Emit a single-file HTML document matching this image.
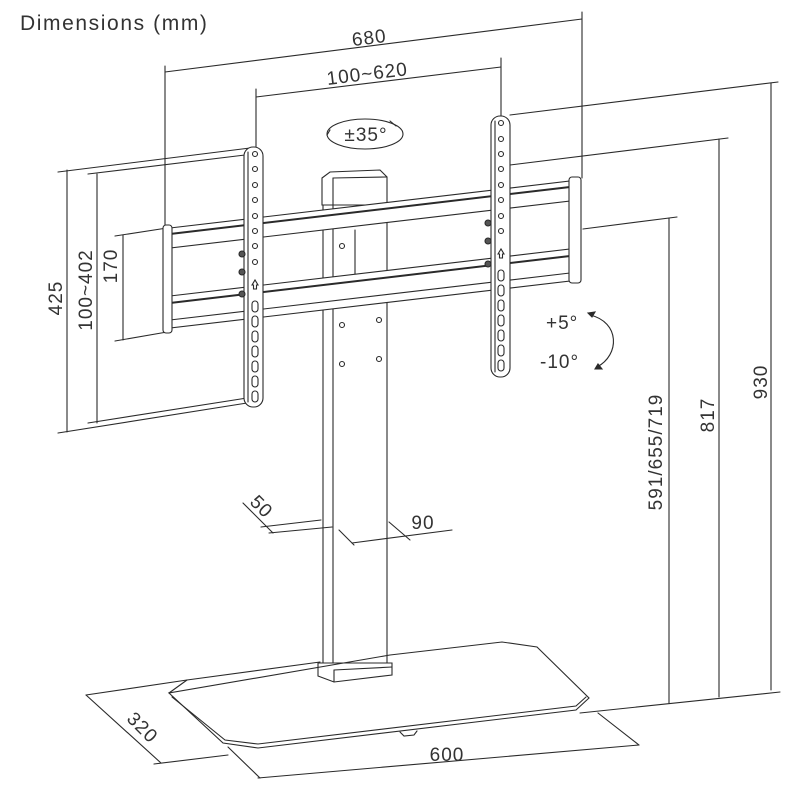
<!DOCTYPE html>
<html><head><meta charset="utf-8"><style>
html,body{margin:0;padding:0;background:#fff;}
svg{display:block;}
text{font-family:"Liberation Sans",sans-serif;fill:#333;letter-spacing:1px;}
</style></head><body>
<svg width="800" height="800" viewBox="0 0 800 800" xmlns="http://www.w3.org/2000/svg">
<g stroke="#2a2a2a" stroke-width="1.1" fill="none" stroke-linecap="round">
<line x1="165" y1="72" x2="582" y2="19"/>
<line x1="165" y1="66" x2="165" y2="228"/>
<line x1="582" y1="12" x2="582" y2="178"/>
<line x1="256" y1="97" x2="501" y2="67"/>
<line x1="256" y1="89" x2="256" y2="147"/>
<line x1="501" y1="58" x2="501" y2="116"/>
<line x1="67" y1="170" x2="67" y2="432"/>
<line x1="58" y1="172" x2="250" y2="148"/>
<line x1="58" y1="433" x2="247" y2="403"/>
<line x1="97" y1="174" x2="97" y2="423"/>
<line x1="88" y1="174" x2="245" y2="155"/>
<line x1="88" y1="423" x2="247" y2="398"/>
<line x1="123" y1="235" x2="123" y2="340"/>
<line x1="115" y1="236" x2="167" y2="228"/>
<line x1="115" y1="341" x2="167" y2="332"/>
<line x1="771" y1="83" x2="771" y2="690"/>
<line x1="510" y1="115" x2="778" y2="82"/>
<line x1="719" y1="139" x2="719" y2="697"/>
<line x1="510" y1="165" x2="728" y2="138"/>
<line x1="669" y1="218" x2="669" y2="703"/>
<line x1="583" y1="229" x2="677" y2="217"/>
<line x1="580" y1="713" x2="780" y2="692"/>
<ellipse cx="365" cy="134" rx="38" ry="15"/>
<path d="M330 130 l-3 5 M396 126 l-6 -5" />
<path d="M590 315 C620 322 620 355 597 367"/>
<path d="M588 313 l7 -1 l-3 5 Z M595 369 l7 0 l-4 -5 Z" fill="#2a2a2a"/>
<path d="M322 178 L330 172 L380 170 L387 177 L387 205 L322 205 Z" fill="#fff"/>
<line x1="333" y1="178" x2="333" y2="205"/>
<line x1="333" y1="178" x2="387" y2="177"/>
<path d="M323 205 L323 663 M333 205 L333 663 M387 205 L387 663"/>
<path d="M318 663 L392 663 L392 675 L334 682 L318 676 Z" fill="#fff"/>
<line x1="334" y1="670" x2="392" y2="667"/>
<line x1="334" y1="670" x2="334" y2="682"/>
<circle cx="342" cy="246" r="2.5"/>
<circle cx="342" cy="325" r="2.5"/><circle cx="379" cy="320" r="2.5"/>
<circle cx="342" cy="364" r="2.5"/><circle cx="379" cy="359" r="2.5"/>
<line x1="355" y1="230" x2="355" y2="285"/>
<g fill="#fff">
<path d="M170 228 L570 181 L570 201 L170 248 Z"/>
<path d="M170 296 L570 249 L570 281 L170 328 Z"/>
</g>
<line x1="170" y1="234" x2="570" y2="187" stroke-width="2"/>
<line x1="170" y1="303" x2="570" y2="256" stroke-width="2"/>
<line x1="170" y1="320" x2="570" y2="273"/>
<rect x="163" y="225" width="9" height="108" rx="3" fill="#fff"/>
<rect x="569" y="177" width="12" height="106" rx="3" fill="#fff"/>
<rect x="244" y="147" width="19" height="260" rx="9" fill="#fff"/>
<line x1="248" y1="152" x2="248" y2="402"/>
<rect x="491" y="116" width="19" height="261" rx="9" fill="#fff"/>
<line x1="495" y1="121" x2="495" y2="372"/>
<g>
<circle cx="255" cy="154" r="2.5"/><circle cx="255" cy="169" r="2.5"/><circle cx="255" cy="185" r="2.5"/><circle cx="255" cy="200" r="2.5"/><circle cx="255" cy="216" r="2.5"/><circle cx="255" cy="231" r="2.5"/><circle cx="255" cy="246" r="2.5"/><circle cx="255" cy="262" r="2.5"/>
<path d="M252 285 l3 -5 l3 5 h-1.5 v4 h-3 v-4 Z"/>
<rect x="252" y="301" width="6" height="11" rx="3"/><rect x="252" y="316" width="6" height="11" rx="3"/><rect x="252" y="331" width="6" height="11" rx="3"/><rect x="252" y="346" width="6" height="11" rx="3"/><rect x="252" y="361" width="6" height="11" rx="3"/><rect x="252" y="376" width="6" height="11" rx="3"/><rect x="252" y="391" width="6" height="11" rx="3"/>
<circle cx="501" cy="123" r="2.5"/><circle cx="501" cy="139" r="2.5"/><circle cx="501" cy="154" r="2.5"/><circle cx="501" cy="169" r="2.5"/><circle cx="501" cy="185" r="2.5"/><circle cx="501" cy="200" r="2.5"/><circle cx="501" cy="216" r="2.5"/><circle cx="501" cy="231" r="2.5"/>
<path d="M498 254 l3 -5 l3 5 h-1.5 v4 h-3 v-4 Z"/>
<rect x="498" y="270" width="6" height="11" rx="3"/><rect x="498" y="285" width="6" height="11" rx="3"/><rect x="498" y="300" width="6" height="11" rx="3"/><rect x="498" y="315" width="6" height="11" rx="3"/><rect x="498" y="330" width="6" height="11" rx="3"/><rect x="498" y="345" width="6" height="11" rx="3"/><rect x="498" y="360" width="6" height="11" rx="3"/>
</g>
<circle cx="242" cy="254" r="3" fill="#555"/><circle cx="242" cy="272" r="3" fill="#555"/><circle cx="242" cy="294" r="3" fill="#555"/>
<circle cx="488" cy="223" r="3" fill="#555"/><circle cx="488" cy="241" r="3" fill="#555"/><circle cx="488" cy="264" r="3" fill="#555"/>
<path d="M187 680 L320 662 M390 655 L502 642 L537 647 L589 698 L576 710 L258 748 L223 743 L169 693 Z" fill="none"/>
<path d="M169 693 L187 680"/>
<path d="M172 697 L225 740 L258 744 L576 706 L586 697"/>
<path d="M400 732 l4 4 l10 -1 l3 -4"/>
<line x1="243" y1="503" x2="273" y2="533"/>
<line x1="261" y1="527" x2="321" y2="520"/>
<line x1="269" y1="533" x2="332" y2="527"/>
<line x1="339" y1="530" x2="354" y2="545"/>
<line x1="352" y1="543" x2="452" y2="530"/>
<line x1="389" y1="522" x2="410" y2="540"/>
<line x1="86" y1="695" x2="161" y2="763"/>
<line x1="86" y1="695" x2="187" y2="680"/>
<line x1="154" y1="764" x2="228" y2="755"/>
<line x1="228" y1="747" x2="260" y2="778"/>
<line x1="258" y1="778" x2="639" y2="745"/>
<line x1="598" y1="713" x2="639" y2="745"/>
</g>
<text x="20" y="30" font-size="21" style="letter-spacing:1.6px">Dimensions (mm)</text>
<text x="370" y="44" font-size="19" text-anchor="middle" transform="rotate(-7 370 44)">680</text>
<text x="368" y="80" font-size="19" text-anchor="middle" transform="rotate(-7 368 80)">100~620</text>
<text x="366" y="141" font-size="19" text-anchor="middle">±35°</text>
<text x="546" y="329" font-size="19">+5°</text>
<text x="540" y="368" font-size="19">-10°</text>
<text x="0" y="0" font-size="19" text-anchor="middle" transform="translate(62 298) rotate(-90)">425</text>
<text x="0" y="0" font-size="19" text-anchor="middle" transform="translate(92 290) rotate(-90)">100~402</text>
<text x="0" y="0" font-size="19" text-anchor="middle" transform="translate(117 266) rotate(-90)">170</text>
<text x="0" y="0" font-size="19" text-anchor="middle" transform="translate(662 452) rotate(-90)">591/655/719</text>
<text x="0" y="0" font-size="19" text-anchor="middle" transform="translate(714 415) rotate(-90)">817</text>
<text x="0" y="0" font-size="19" text-anchor="middle" transform="translate(767 382) rotate(-90)">930</text>
<text x="0" y="0" font-size="19" text-anchor="middle" transform="translate(257 511) rotate(45)">50</text>
<text x="423" y="529" font-size="19" text-anchor="middle">90</text>
<text x="0" y="0" font-size="19" text-anchor="middle" transform="translate(138 732) rotate(45)">320</text>
<text x="447" y="761" font-size="19" text-anchor="middle">600</text>
</svg>
</body></html>
